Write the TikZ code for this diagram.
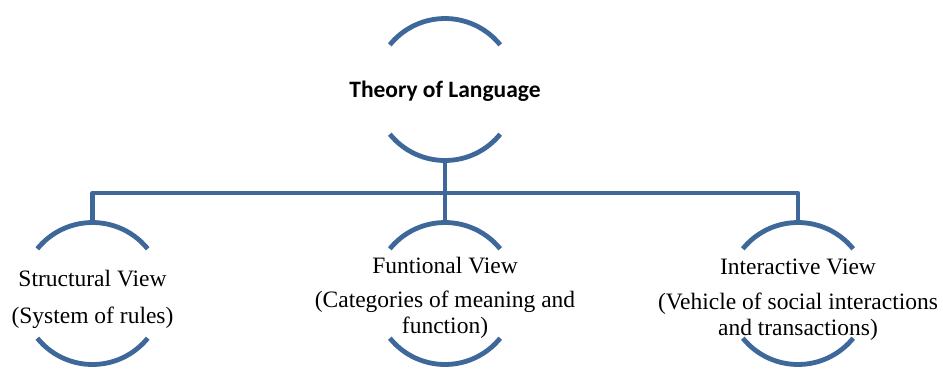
\documentclass[tikz,border=0pt]{standalone}
\usepackage{fontspec}
\setmainfont{Liberation Serif}
\newfontfamily\titlefont{Carlito}
\definecolor{linkblue}{RGB}{62,103,154}
\begin{document}
% y runs downwards, so the arc angles below are negated
\begin{tikzpicture}[x=1pt,y=-1pt,
  ring/.style={circle,minimum size=142pt,inner sep=0pt,outer sep=0pt},
  arcline/.style={draw=linkblue,line width=4.8pt},
  wire/.style={draw=linkblue,line width=4.8pt,line join=round},
  label/.style={align=center,anchor=base,inner sep=0pt,
    font=\fontsize{23.5}{26}\selectfont},
  title/.style={anchor=base,inner sep=0pt,
    font=\titlefont\bfseries\fontsize{23.5}{26}\selectfont}]
\useasboundingbox (0,0) rectangle (943,368);

% rings (invisible circles carrying the two open arcs each)
\node[ring] (top)   at (445,89.5) {};
\node[ring] (left)  at (92.5,293.5) {};
\node[ring] (mid)   at (445,293.5) {};
\node[ring] (right) at (798,293.5) {};

\foreach \r in {top,left,mid,right}{
  \draw[arcline] (\r.39) arc[start angle=-39,end angle=-141,radius=71];
  \draw[arcline] (\r.219) arc[start angle=-219,end angle=-321,radius=71];
}

% texts (anchored at the baseline of their last line)
\node[title] (ttheory) at (445,97) {Theory of Language};
\node[label] (tleft)  at (92.5,323) {Structural View\\[11pt](System of rules)};
\node[label] (tmid)   at (445,333) {Funtional View\\[8pt](Categories of meaning and\\function)};
\node[label] (tright) at (798,335) {Interactive View\\[9pt](Vehicle of social interactions\\and transactions)};

% connectors
\coordinate (bus) at (445,193);
\draw[wire] (top.south) -- (bus);
\draw[wire] (left.north) -- (left.north |- bus) -- (right.north |- bus) -- (right.north);
\draw[wire] (bus) -- (mid.north);
\end{tikzpicture}
\end{document}
